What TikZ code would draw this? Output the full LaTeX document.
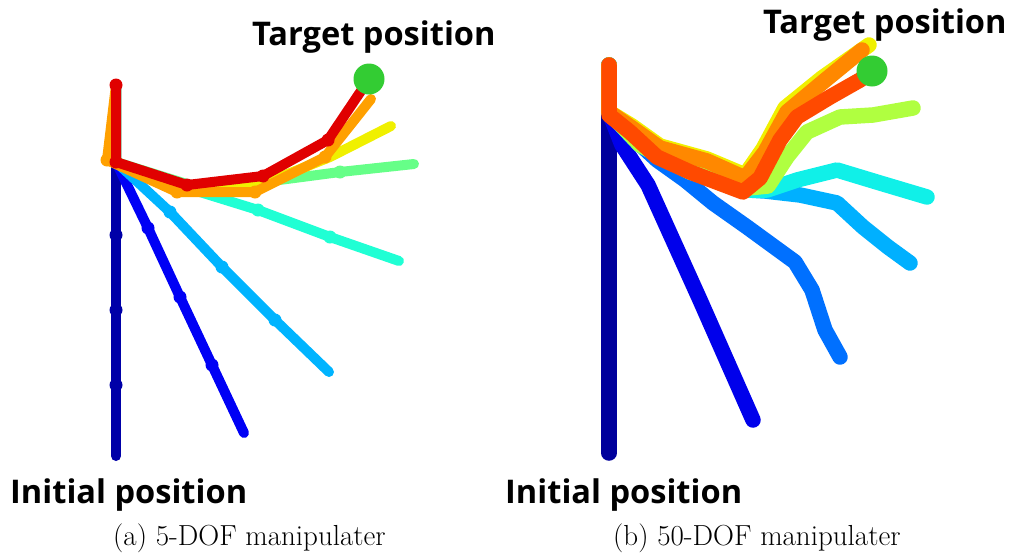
\documentclass[tikz,border=0pt]{standalone}
\usepackage{fontspec}
\newfontfamily\labfont{Open Sans}
\definecolor{cDkBlue}{RGB}{0,0,168}
\definecolor{cBlue}{RGB}{0,0,245}
\definecolor{cLtBlue}{RGB}{0,180,255}
\definecolor{cCyanA}{RGB}{32,255,212}
\definecolor{cGreenA}{RGB}{102,255,136}
\definecolor{cYellow}{RGB}{240,240,0}
\definecolor{cOrangeA}{RGB}{255,160,0}
\definecolor{cRedA}{RGB}{224,0,0}
\definecolor{cDkBlueB}{RGB}{0,0,156}
\definecolor{cBlueB}{RGB}{0,0,235}
\definecolor{cMidBlue}{RGB}{0,112,255}
\definecolor{cLtBlueB}{RGB}{0,176,255}
\definecolor{cCyanB}{RGB}{16,240,232}
\definecolor{cYGreen}{RGB}{176,255,64}
\definecolor{cOrangeB}{RGB}{255,136,0}
\definecolor{cRedB}{RGB}{255,74,0}
\definecolor{tgreen}{RGB}{51,204,51}
\begin{document}
\begin{tikzpicture}[x=1pt,y=-1pt,line cap=round,line join=round]
\useasboundingbox (0,0) rectangle (1011,552);
\tikzset{
  armA/.style={line width=10pt},
  armB/.style={line width=15.5pt},
  lab/.style={font=\labfont\bfseries\fontsize{32.6}{36}\selectfont,inner sep=0pt,anchor=base west},
  capt/.style={font=\fontsize{29}{33}\selectfont,inner sep=0pt,anchor=base west},
  target/.style={circle,fill=tgreen,minimum size=31pt,inner sep=0pt}
}
\newcommand\jointsA[2]{\foreach \p in {#2} \fill[#1] \p circle (6.5pt);}
% ---------------- panel (a)
\draw[armA,cDkBlue] (116,85)--(116,162)--(116,235)--(116,310)--(116,385)--(116,456);
\jointsA{cDkBlue}{(116,235),(116,310),(116,385)}
\draw[armA,cBlue] (116,85)--(116,162)--(148,228)--(180,297)--(212,365)--(244,433);
\jointsA{cBlue}{(148,228),(180,297),(212,365)}
\draw[armA,cLtBlue] (116,85)--(116,162)--(170,212)--(222,267)--(275,320)--(329,372);
\jointsA{cLtBlue}{(170,212),(222,267),(275,320)}
\draw[armA,cCyanA] (116,85)--(116,162)--(187,188)--(258,210)--(330,237)--(399,261);
\jointsA{cCyanA}{(258,210),(330,237)}
\draw[armA,cGreenA] (116,85)--(116,162)--(190,185)--(264,182)--(340,172)--(414,164);
\jointsA{cGreenA}{(340,172)}
\draw[armA,cYellow] (116,85)--(116,162)--(186,188)--(258,186)--(330,157)--(391,126);
\draw[armA,cOrangeA] (116,85)--(107,160)--(177,192)--(255,192)--(325,157)--(371,99);
\jointsA{cOrangeA}{(107,160),(177,192),(255,192),(325,157)}
\draw[armA,cRedA] (116,85)--(116,162)--(187,185)--(263,176)--(328,140)--(369,79);
\jointsA{cRedA}{(116,85),(116,162),(187,185),(263,176),(328,140)}
\node[target] (tgtA) at (369,79) {};
% ---------------- panel (b)
\draw[armB,cDkBlueB] (609,65)--(609,453);
\draw[armB,cBlueB] (609,65)--(609,112)--(622,145)--(648,185)--(700,300)--(753,420);
\draw[armB,cMidBlue] (609,65)--(609,112)--(630,135)--(657,160)--(685,180)--(713,203)--(747,227)--(795,262)--(812,290)--(825,330)--(840,357);
\draw[armB,cLtBlueB] (609,65)--(609,112)--(640,145)--(690,172)--(748,190)--(765,191)--(800,195)--(837,203)--(863,227)--(888,247)--(910,263);
\draw[armB,cCyanB] (609,65)--(609,112)--(640,145)--(690,172)--(748,190)--(767,190)--(797,180)--(837,170)--(880,183)--(927,197);
\draw[armB,cYGreen] (609,65)--(609,112)--(640,145)--(690,172)--(748,188)--(768,186)--(787,157)--(807,132)--(840,117)--(873,115)--(913,108);
\draw[armB,cYellow] (609,65)--(609,112)--(632,126)--(660,146)--(707,159)--(745,175)--(763,149)--(785,108)--(822,78)--(869,45);
\draw[armB,cOrangeB] (609,65)--(609,112)--(632,128)--(660,148)--(707,161)--(745,178)--(765,152)--(787,112)--(823,82)--(862,50);
\draw[armB,cRedB] (609,65)--(609,115)--(630,132)--(657,157)--(690,172)--(743,192)--(760,178)--(780,140)--(797,117)--(830,97)--(860,80)--(872,71);
\node[target] (tgtB) at (872,71) {};
% ---------------- labels
\node[lab] (tpA) at (252,45) {Target position};
\node[lab] (ipA) at (10,503) {Initial position};
\node[lab] (tpB) at (763,33) {Target position};
\node[lab] (ipB) at (505,503) {Initial position};
\node[capt] (capA) at (113,545) {(a) 5-DOF manipulater};
\node[capt] (capB) at (613,545) {(b) 50-DOF manipulater};
\end{tikzpicture}
\end{document}
